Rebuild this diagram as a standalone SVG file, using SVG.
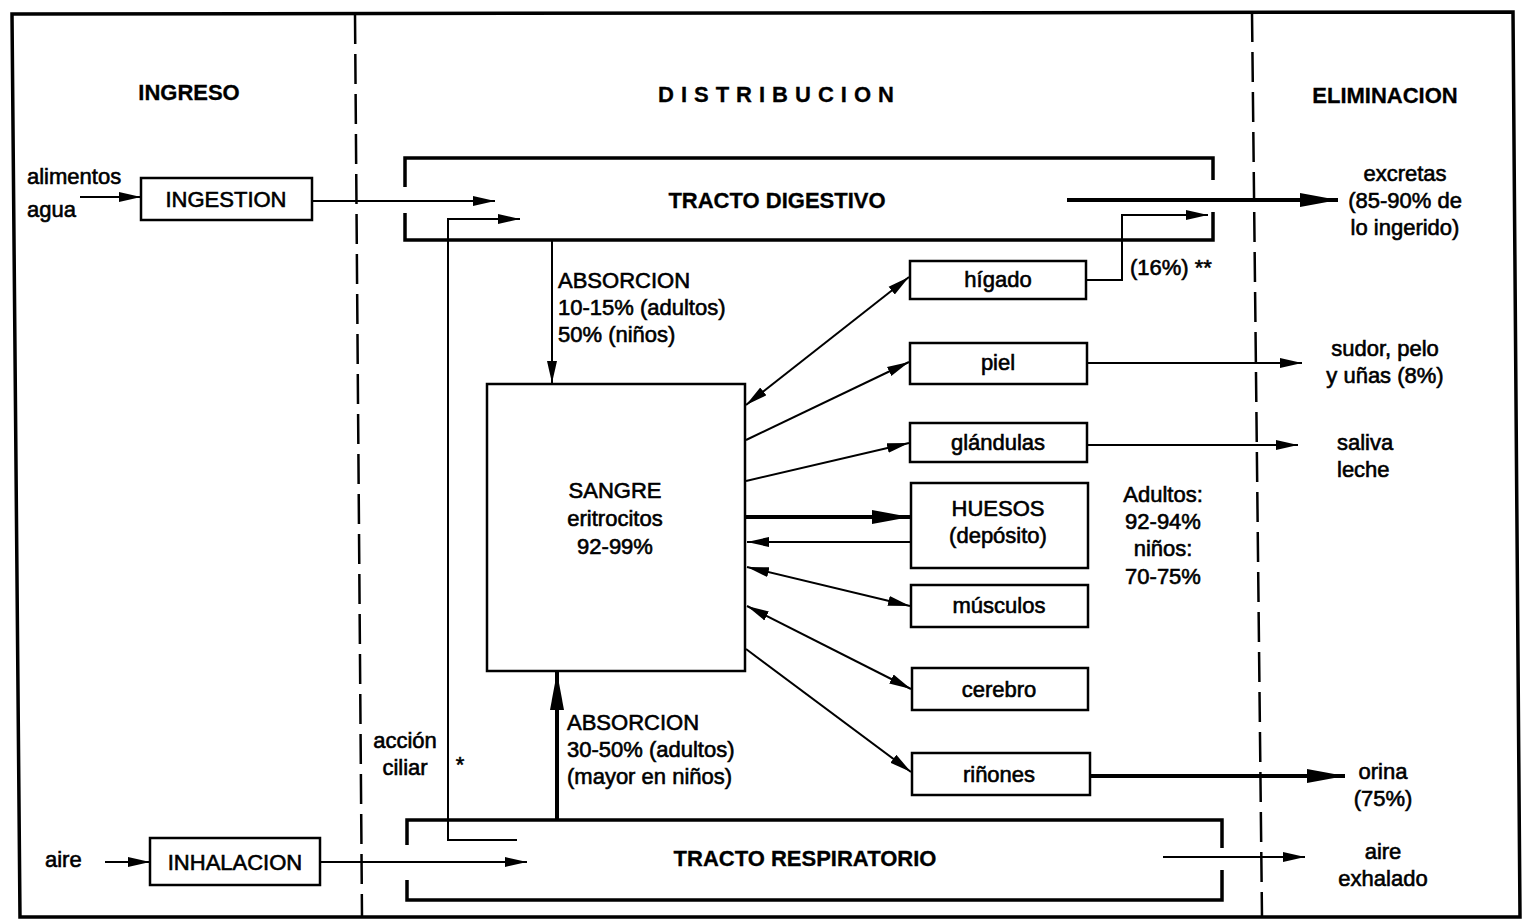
<svg xmlns="http://www.w3.org/2000/svg" width="1528" height="920" viewBox="0 0 1528 920">
<defs>
<style>
text{font-family:"Liberation Sans",Arial,sans-serif;font-size:22px;fill:#000;stroke:#000;stroke-width:0.6}
.b{font-weight:bold;stroke-width:0.3}
.m{text-anchor:middle}
.box{fill:#fff;stroke:#000;stroke-width:2.5}
.ln{fill:none;stroke:#000;stroke-width:2}
.th{fill:none;stroke:#000;stroke-width:4}
.br{fill:none;stroke:#000;stroke-width:3.5}
.dash{fill:none;stroke:#000;stroke-width:2.5;stroke-dasharray:30 10}
</style>
<marker id="a" markerUnits="userSpaceOnUse" markerWidth="24" markerHeight="12" refX="22" refY="5" orient="auto-start-reverse" viewBox="0 0 24 10"><path d="M0,0 L22,5 L0,10 z" fill="#000"/></marker>
<marker id="t" markerUnits="userSpaceOnUse" markerWidth="40" markerHeight="16" refX="38" refY="7" orient="auto-start-reverse" viewBox="0 0 40 14"><path d="M0,0 L38,7 L0,14 z" fill="#000"/></marker>
</defs>
<rect width="1528" height="920" fill="#fff"/>
<g id="frame">
<path d="M12,14 L1513,12 L1520,917 L20,917 Z" class="br"/>
<line x1="355" y1="14" x2="362" y2="917" class="dash"/>
<line x1="1252" y1="12" x2="1262" y2="917" class="dash"/>
<text x="189" y="100" class="b m">INGRESO</text>
<text x="658" y="102" class="b" letter-spacing="7">DISTRIBUCION</text>
<text x="1385" y="103" class="b m">ELIMINACION</text>
</g>
<g id="tracto-digestivo">
<path d="M405,187 L405,158 L1213,158 L1213,180 M405,213 L405,240 L1213,240 L1213,212" class="br"/>
<text x="777" y="208" class="b m">TRACTO DIGESTIVO</text>
</g>
<g id="tracto-respiratorio">
<path d="M407,845 L407,820 L1222,820 L1222,848 M407,880 L407,900 L1222,900 L1222,870" class="br"/>
<text x="805" y="866" class="b m">TRACTO RESPIRATORIO</text>
</g>
<g id="ingestion"><rect x="141" y="178" width="171" height="42" class="box"/><text x="226" y="207" class="m">INGESTION</text></g>
<g id="inhalacion"><rect x="150" y="838" width="170" height="47" class="box"/><text x="235" y="870" class="m">INHALACION</text></g>
<g id="sangre"><rect x="487" y="384" width="258" height="287" class="box"/>
<text x="615" y="498" class="m">SANGRE</text><text x="615" y="526" class="m">eritrocitos</text><text x="615" y="554" class="m">92-99%</text></g>
<g id="higado"><rect x="910" y="261" width="176" height="38" class="box"/><text x="998" y="287" class="m">hígado</text></g>
<g id="piel"><rect x="910" y="343" width="177" height="41" class="box"/><text x="998" y="370" class="m">piel</text></g>
<g id="glandulas"><rect x="910" y="423" width="177" height="39" class="box"/><text x="998" y="450" class="m">glándulas</text></g>
<g id="huesos"><rect x="911" y="483" width="177" height="85" class="box"/><text x="998" y="516" class="m">HUESOS</text><text x="998" y="543" class="m">(depósito)</text></g>
<g id="musculos"><rect x="911" y="585" width="177" height="42" class="box"/><text x="999" y="613" class="m">músculos</text></g>
<g id="cerebro"><rect x="912" y="668" width="176" height="42" class="box"/><text x="999" y="697" class="m">cerebro</text></g>
<g id="rinones"><rect x="912" y="753" width="178" height="42" class="box"/><text x="999" y="782" class="m">riñones</text></g>
<g id="connectors">
<line x1="80" y1="197" x2="141" y2="197" class="ln" marker-end="url(#a)"/>
<line x1="312" y1="201" x2="495" y2="201" class="ln" marker-end="url(#a)"/>
<path d="M517,840 L448,840 L448,219 L520,219" class="ln" marker-end="url(#a)"/>
<line x1="552" y1="240" x2="552" y2="383" class="ln" marker-end="url(#a)"/>
<line x1="557" y1="820" x2="557" y2="672" class="th" marker-end="url(#t)"/>
<line x1="105" y1="862" x2="150" y2="862" class="ln" marker-end="url(#a)"/>
<line x1="320" y1="862" x2="527" y2="862" class="ln" marker-end="url(#a)"/>
<line x1="1067" y1="200" x2="1338" y2="200" class="th" marker-end="url(#t)"/>
<path d="M1086,280 L1122,280 L1122,215 L1208,215" class="ln" marker-end="url(#a)"/>
<line x1="746" y1="405" x2="909" y2="277" class="ln" marker-start="url(#a)" marker-end="url(#a)"/>
<line x1="746" y1="440" x2="909" y2="362" class="ln" marker-end="url(#a)"/>
<line x1="746" y1="481" x2="909" y2="443" class="ln" marker-end="url(#a)"/>
<line x1="746" y1="517" x2="910" y2="517" class="th" marker-end="url(#t)"/>
<line x1="910" y1="542" x2="747" y2="542" class="ln" marker-end="url(#a)"/>
<line x1="747" y1="567" x2="910" y2="606" class="ln" marker-start="url(#a)" marker-end="url(#a)"/>
<line x1="747" y1="606" x2="911" y2="689" class="ln" marker-start="url(#a)" marker-end="url(#a)"/>
<line x1="746" y1="649" x2="911" y2="772" class="ln" marker-end="url(#a)"/>
<line x1="1087" y1="363" x2="1302" y2="363" class="ln" marker-end="url(#a)"/>
<line x1="1087" y1="445" x2="1298" y2="445" class="ln" marker-end="url(#a)"/>
<line x1="1090" y1="776" x2="1345" y2="776" class="th" marker-end="url(#t)"/>
<line x1="1163" y1="857" x2="1305" y2="857" class="ln" marker-end="url(#a)"/>
</g>
<g id="labels">
<text x="27" y="184">alimentos</text>
<text x="27" y="217">agua</text>
<text x="45" y="867">aire</text>
<text x="558" y="288">ABSORCION</text>
<text x="558" y="315">10-15% (adultos)</text>
<text x="558" y="342">50% (niños)</text>
<text x="567" y="730">ABSORCION</text>
<text x="567" y="757">30-50% (adultos)</text>
<text x="567" y="784">(mayor en niños)</text>
<text x="405" y="748" class="m">acción</text>
<text x="405" y="775" class="m">ciliar</text>
<text x="460" y="772" class="m">*</text>
<text x="1130" y="275">(16%) **</text>
<text x="1163" y="502" class="m">Adultos:</text>
<text x="1163" y="529" class="m">92-94%</text>
<text x="1163" y="556" class="m">niños:</text>
<text x="1163" y="584" class="m">70-75%</text>
<text x="1405" y="181" class="m">excretas</text>
<text x="1405" y="208" class="m">(85-90% de</text>
<text x="1405" y="235" class="m">lo ingerido)</text>
<text x="1385" y="356" class="m">sudor, pelo</text>
<text x="1385" y="383" class="m">y uñas (8%)</text>
<text x="1337" y="450">saliva</text>
<text x="1337" y="477">leche</text>
<text x="1383" y="779" class="m">orina</text>
<text x="1383" y="806" class="m">(75%)</text>
<text x="1383" y="859" class="m">aire</text>
<text x="1383" y="886" class="m">exhalado</text>
</g>
</svg>
